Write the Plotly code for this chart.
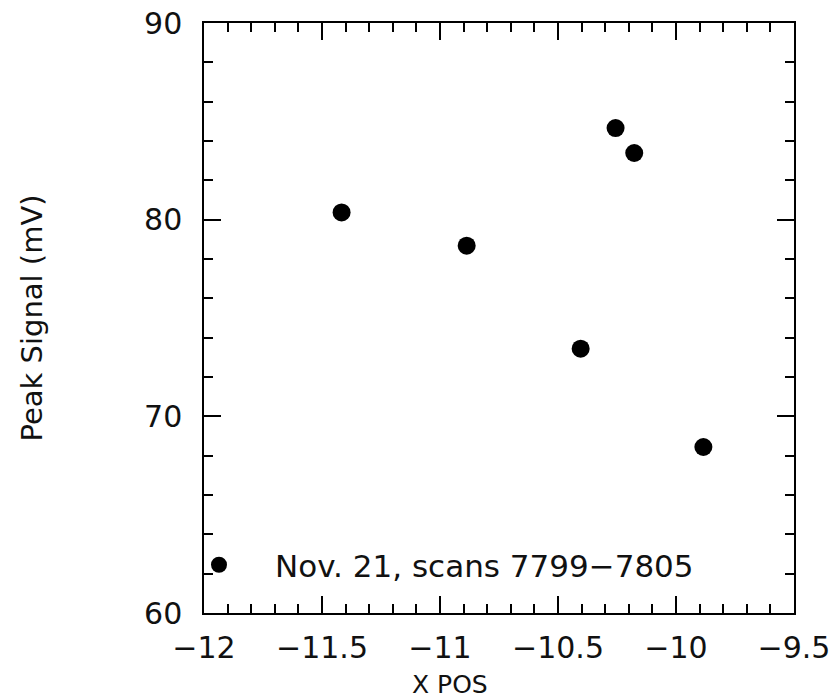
import plotly.graph_objects as go

x_pos = [-11.417, -10.887, -10.404, -10.256, -10.177, -9.884]
peak_signal = [80.37, 78.68, 73.44, 84.66, 83.39, 68.44]
series_name = "Nov. 21, scans 7799\u22127805"
x_ticks = [-12, -11.5, -11, -10.5, -10, -9.5]
x_ticklabels = ["\u221212", "\u221211.5", "\u221211", "\u221210.5", "\u221210", "\u22129.5"]
y_ticks = [60, 70, 80, 90]

FONT = "DejaVu Sans"

fig = go.Figure()
fig.add_trace(go.Scatter(
    x=x_pos, y=peak_signal, mode="markers", name=series_name,
    marker=dict(color="black", size=18, line=dict(width=0)),
))

axis_common = dict(
    showgrid=False, zeroline=False, showline=True, linecolor="black", linewidth=1.5,
    mirror="allticks", ticks="inside", ticklen=17, tickwidth=1.5, tickcolor="black",
    tickfont=dict(family=FONT, size=30, color="#111"), automargin=False,
)
fig.update_xaxes(
    range=[-12, -9.5], tickvals=x_ticks, ticktext=x_ticklabels, ticklabelstandoff=7,
    minor=dict(dtick=0.1, ticks="inside", ticklen=9, tickwidth=1.5, tickcolor="black"),
    **axis_common,
)
fig.update_yaxes(
    range=[60, 90], tickvals=y_ticks, ticklabelstandoff=14,
    minor=dict(dtick=2, ticks="inside", ticklen=9, tickwidth=1.5, tickcolor="black"),
    title=dict(text="Peak Signal (mV)", font=dict(family=FONT, size=29, color="#111"), standoff=93),
    **axis_common,
)
fig.add_annotation(
    text="X POS", xref="paper", yref="paper", x=0.417, y=-0.122,
    xanchor="center", yanchor="middle", showarrow=False,
    font=dict(family=FONT, size=25, color="#111"),
)
fig.update_layout(
    width=835, height=699,
    margin=dict(l=204, r=41, t=23, b=86),
    plot_bgcolor="white", paper_bgcolor="white",
    showlegend=True,
    legend=dict(x=-0.0695, y=0.0812, xanchor="left", yanchor="middle", bgcolor="rgba(0,0,0,0)",
                font=dict(family=FONT, size=31, color="#111"), itemwidth=102),
)
fig.write_html("out.html")
